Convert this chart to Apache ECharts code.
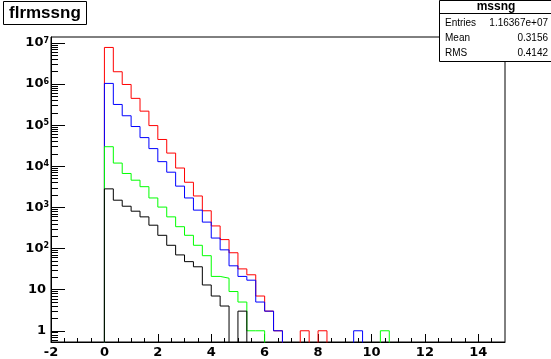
<!DOCTYPE html>
<html><head><meta charset="utf-8">
<script src="https://cdn.jsdelivr.net/npm/echarts@6/dist/echarts.min.js"></script>
<style>html,body{margin:0;padding:0;background:#fff}#c{width:551px;height:359px}</style>
</head><body><div id="c"></div>
<script>
// histogram binning (low edge of first bin, bin width)
const binStart = 0;
const binWidth = 1 / 3;
// bin contents, first bin = [0, 1/3]
const redCounts   = [7.8e6, 2.0e6, 9.8e5, 4.5e5, 2.2e5, 9.8e4, 4.5e4, 2.1e4, 9100, 4100, 1900, 830, 355, 165, 79, 32, 23, 7, 3, 1, 0, 0, 1, 0, 1, 0, 0, 0, 0, 0, 0, 0, 0];
const blueCounts  = [1.04e6, 3.2e5, 1.7e5, 9.3e4, 5.0e4, 2.7e4, 1.3e4, 7200, 3300, 1700, 860, 440, 180, 93, 38, 21, 17, 5, 3, 1, 0, 0, 0, 0, 0, 0, 0, 0, 1, 0, 0, 0, 0];
const greenCounts = [3.0e4, 1.2e4, 6700, 4600, 3200, 1700, 1020, 590, 340, 210, 120, 67, 21, 19, 9, 5, 1, 1, 0, 0, 0, 0, 0, 0, 0, 0, 0, 0, 0, 0, 0, 1, 0];
const blackCounts = [2830, 1500, 1070, 810, 590, 370, 210, 120, 70, 48, 36, 13, 7, 4, 0, 3, 0, 0, 0, 0, 0, 0, 0, 0, 0, 0, 0, 0, 0, 0, 0, 0, 0];
// axis ranges and tick labels
const xMin = -2, xMax = 15;
const xTickLabels = [-2, 0, 2, 4, 6, 8, 10, 12, 14];
const xMinorTicks = [-1.5, -1, -0.5, 0.5, 1, 1.5, 2.5, 3, 3.5, 4.5, 5, 5.5, 6.5, 7, 7.5, 8.5, 9, 9.5, 10.5, 11, 11.5, 12.5, 13, 13.5, 14.5];
const yDecades = [0, 1, 2, 3, 4, 5, 6, 7];   // powers of ten on the log axis
const yMinCount = 0.533, yMaxCount = 1.4e7;
const statsTitle = 'mssng';
const statsRows = [['Entries', '1.16367e+07'], ['Mean', '0.3156'], ['RMS', '0.4142']];
const histTitle = 'flrmssng';

const yMin = Math.log10(yMinCount), yMax = Math.log10(yMaxCount);
const BELOW = yMin - 1; // empty bins are drawn below the frame and clipped

function toPoints(counts) {
  const pts = [[binStart - binWidth, BELOW]];
  counts.forEach((c, i) => pts.push([binStart + i * binWidth, c > 0 ? Math.log10(c) : BELOW]));
  pts.push([binStart + counts.length * binWidth, BELOW]);
  return pts;
}
const yMinor = [];
for (let k = -1; k <= 7; k++) for (let m = 2; m <= 9; m++) {
  const v = k + Math.log10(m);
  if (v > yMin && v < yMax) yMinor.push(v);
}
const FF = 'DejaVu Sans';
const chart = echarts.init(document.getElementById('c'), null, {renderer: 'canvas'});
function histSeries(counts, color) {
  return {type: 'line', data: toPoints(counts), step: 'end', symbol: 'none', clip: true,
    lineStyle: {color: color, width: 1}, animation: false, silent: true};
}
chart.setOption({
  backgroundColor: '#fff',
  animation: false,
  title: {text: histTitle, left: 3, top: 1, padding: [4, 6, 3, 6],
    borderColor: '#000', borderWidth: 1, backgroundColor: '#fff',
    textStyle: {fontFamily: 'Liberation Sans', fontWeight: 'bold', fontSize: 17, color: '#000'}},
  grid: {left: 51, right: 46, top: 37, bottom: 15, show: true, borderColor: '#000', borderWidth: 1, backgroundColor: '#fff'},
  xAxis: [
    {type: 'value', min: xMin, max: xMax, interval: 2,
      axisLine: {onZero: false, lineStyle: {color: '#000', width: 1}},
      axisTick: {inside: true, length: 8, customValues: xTickLabels, lineStyle: {color: '#000'}},
      axisLabel: {customValues: xTickLabels, margin: 4, color: '#000', fontFamily: FF, fontWeight: 'bold', fontSize: 13,
        formatter: v => String(v)},
      splitLine: {show: false}},
    {type: 'value', min: xMin, max: xMax, position: 'bottom',
      axisLine: {show: false, onZero: false},
      axisTick: {inside: true, length: 4, customValues: xMinorTicks, lineStyle: {color: '#000'}},
      axisLabel: {show: false}, splitLine: {show: false}}
  ],
  yAxis: [
    {type: 'value', min: yMin, max: yMax,
      axisLine: {show: true, onZero: false, lineStyle: {color: '#000', width: 1}},
      axisTick: {show: true, inside: true, length: 14, customValues: yDecades, lineStyle: {color: '#000'}},
      axisLabel: {customValues: yDecades, margin: 2, color: '#000',
        formatter: v => {
          const k = Math.round(v);
          if (k === 0) return '{p|1}';
          if (k === 1) return '{p|10}';
          return '{b|10}{s|' + k + '}';
        },
        rich: {
          p: {fontFamily: FF, fontWeight: 'bold', fontSize: 13, lineHeight: 13, color: '#000', padding: [0, 3, 0, 0]},
          b: {fontFamily: FF, fontWeight: 'bold', fontSize: 13, lineHeight: 13, color: '#000', verticalAlign: 'middle'},
          s: {fontFamily: FF, fontWeight: 'bold', fontSize: 8, lineHeight: 8, color: '#000', padding: [0, 0, 17, 0], verticalAlign: 'top'}
        }},
      splitLine: {show: false}},
    {type: 'value', min: yMin, max: yMax, position: 'left',
      axisLine: {show: false, onZero: false},
      axisTick: {show: true, inside: true, length: 7, customValues: yMinor, lineStyle: {color: '#000'}},
      axisLabel: {show: false}, splitLine: {show: false}}
  ],
  series: [
    histSeries(redCounts, '#ff0000'),
    histSeries(blueCounts, '#0000ff'),
    histSeries(greenCounts, '#00ff00'),
    histSeries(blackCounts, '#000000')
  ],
  graphic: [{
    type: 'group', left: 437, top: 0, z: 100,
    children: [
      {type: 'rect', shape: {x: 0.5, y: 0.5, width: 112, height: 61}, style: {fill: '#fff', stroke: '#000', lineWidth: 1}},
      {type: 'line', shape: {x1: 0.5, y1: 13.5, x2: 112.5, y2: 13.5}, style: {stroke: '#000', lineWidth: 1}},
      {type: 'text', x: 57, y: 7, style: {text: statsTitle, align: 'center', verticalAlign: 'middle', fill: '#000',
        font: 'bold 12px "Liberation Sans"'}}
    ].concat(...statsRows.map((r, i) => [
      {type: 'text', x: 6, y: 23.5 + i * 14.8, style: {text: r[0], align: 'left', verticalAlign: 'middle', fill: '#000', font: '10px "Liberation Sans"'}},
      {type: 'text', x: 109, y: 23.5 + i * 14.8, style: {text: r[1], align: 'right', verticalAlign: 'middle', fill: '#000', font: '10px "Liberation Sans"'}}
    ]))
  }]
});
</script></body></html>
